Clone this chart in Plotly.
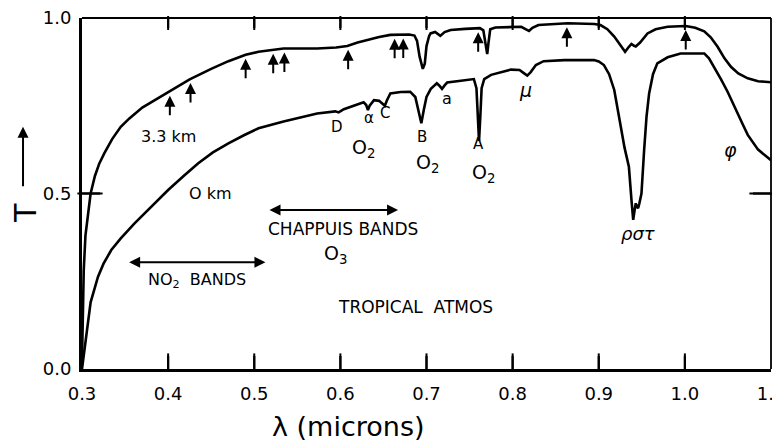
import numpy as np
import plotly.graph_objects as go

lam_33 = [0.300, 0.301, 0.302, 0.304, 0.307, 0.310, 0.315, 0.320, 0.326, 0.335, 0.345, 0.355,
          0.370, 0.385, 0.402, 0.425, 0.450, 0.470, 0.490, 0.505, 0.534, 0.573, 0.595, 0.608,
          0.620, 0.631, 0.645, 0.658, 0.680, 0.686, 0.689, 0.692, 0.6957, 0.698, 0.700, 0.703,
          0.7047, 0.710, 0.716, 0.721, 0.728, 0.745, 0.762, 0.766, 0.768, 0.7705, 0.772, 0.774,
          0.780, 0.798, 0.810, 0.815, 0.819, 0.823, 0.830, 0.864, 0.895, 0.902, 0.910, 0.918,
          0.925, 0.9306, 0.935, 0.938, 0.941, 0.943, 0.948, 0.9566, 0.966, 0.980, 1.001, 1.012,
          1.0225, 1.030, 1.038, 1.046, 1.0535, 1.062, 1.073, 1.085, 1.100]
T_33 = [0.02, 0.15, 0.28, 0.38, 0.45, 0.50, 0.55, 0.585, 0.615, 0.655, 0.69, 0.714,
        0.745, 0.767, 0.790, 0.825, 0.855, 0.877, 0.895, 0.904, 0.913, 0.913, 0.916, 0.920,
        0.930, 0.937, 0.946, 0.952, 0.953, 0.950, 0.935, 0.89, 0.855, 0.87, 0.92, 0.948,
        0.956, 0.960, 0.949, 0.960, 0.966, 0.969, 0.971, 0.965, 0.93, 0.897, 0.93, 0.968,
        0.973, 0.975, 0.975, 0.968, 0.963, 0.972, 0.980, 0.985, 0.983, 0.980, 0.968, 0.947,
        0.922, 0.904, 0.918, 0.926, 0.921, 0.919, 0.930, 0.956, 0.968, 0.975, 0.977, 0.972,
        0.962, 0.945, 0.918, 0.885, 0.861, 0.842, 0.828, 0.820, 0.817]

lam_0 = [0.300, 0.302, 0.305, 0.307, 0.310, 0.3186, 0.325, 0.334, 0.345, 0.361, 0.380, 0.400,
         0.418, 0.435, 0.452, 0.470, 0.488, 0.505, 0.534, 0.573, 0.594, 0.598, 0.604, 0.612,
         0.620, 0.627, 0.630, 0.632, 0.634, 0.639, 0.645, 0.6516, 0.654, 0.658, 0.670, 0.681,
         0.687, 0.690, 0.694, 0.697, 0.700, 0.705, 0.712, 0.715, 0.718, 0.721, 0.724, 0.740,
         0.755, 0.758, 0.7595, 0.761, 0.7625, 0.764, 0.767, 0.775, 0.798, 0.808, 0.813, 0.817,
         0.821, 0.827, 0.836, 0.860, 0.8945, 0.900, 0.906, 0.912, 0.918, 0.922, 0.9256, 0.930,
         0.935, 0.938, 0.940, 0.9415, 0.943, 0.9445, 0.9457, 0.947, 0.9496, 0.9527, 0.9555,
         0.9585, 0.963, 0.968, 0.980, 0.995, 1.010, 1.0225, 1.028, 1.034, 1.042, 1.0496, 1.055,
         1.061, 1.067, 1.073, 1.085, 1.100]
T_0 = [0.00, 0.04, 0.09, 0.14, 0.19, 0.263, 0.30, 0.339, 0.372, 0.415, 0.462, 0.510,
       0.550, 0.586, 0.617, 0.643, 0.666, 0.686, 0.705, 0.728, 0.734, 0.731, 0.740, 0.747,
       0.755, 0.760, 0.752, 0.738, 0.750, 0.766, 0.764, 0.750, 0.765, 0.785, 0.789, 0.790,
       0.775, 0.74, 0.700, 0.74, 0.775, 0.798, 0.814, 0.807, 0.798, 0.808, 0.816, 0.821,
       0.826, 0.800, 0.72, 0.650, 0.72, 0.80, 0.826, 0.838, 0.853, 0.852, 0.843, 0.836,
       0.846, 0.866, 0.877, 0.880, 0.880, 0.876, 0.866, 0.840, 0.795, 0.745, 0.690, 0.630,
       0.576, 0.481, 0.425, 0.45, 0.472, 0.462, 0.458, 0.47, 0.500, 0.624, 0.720,
       0.785, 0.84, 0.871, 0.888, 0.899, 0.900, 0.899, 0.885, 0.861, 0.825, 0.790, 0.760,
       0.728, 0.698, 0.667, 0.625, 0.595]

# window markers (arrows) under the 3.3 km curve
arrow_lam = [0.402, 0.426, 0.490, 0.522, 0.535, 0.609, 0.663, 0.673, 0.760, 0.863, 1.001]

x_tickvals = [0.3, 0.4, 0.5, 0.6, 0.7, 0.8, 0.9, 1.0, 1.1]
x_ticktext = ["0.3", "0.4", "0.5", "0.6", "0.7", "0.8", "0.9", "1.0", "1.1"]
y_tickvals = [0.0, 0.5, 1.0]
y_ticktext = ["0.0", "0.5", "1.0"]

FONT = "DejaVu Sans"
XR = [0.3, 1.1]
YR = [0.0, 1.0]

fig = go.Figure()
fig.add_trace(go.Scatter(x=lam_33, y=T_33, mode="lines",
                         line=dict(color="black", width=2.6), hoverinfo="skip"))
fig.add_trace(go.Scatter(x=lam_0, y=T_0, mode="lines",
                         line=dict(color="black", width=2.6), hoverinfo="skip"))

# inward tick marks (bottom 13px, top 10px, left/right 18px)
px_per_y = 351.0 / (YR[1] - YR[0])
px_per_x = 689.0 / (XR[1] - XR[0])
inner_x = x_tickvals[1:-1]
inner_y = y_tickvals[1:-1]
tx, ty = [], []
for tv in inner_x:
    tx += [tv, tv, None, tv, tv, None]
    ty += [YR[0], YR[0] + 13 / px_per_y, None, YR[1], YR[1] - 10 / px_per_y, None]
for tv in inner_y:
    tx += [XR[0], XR[0] + 18 / px_per_x, None, XR[1], XR[1] - 18 / px_per_x, None]
    ty += [tv, tv, None, tv, tv, None]
fig.add_trace(go.Scatter(x=tx, y=ty, mode="lines", line=dict(color="black", width=2.2),
                         hoverinfo="skip", connectgaps=False, cliponaxis=False))
# same ticks as line-shaped markers (robust rendering)
fig.add_trace(go.Scatter(x=inner_x, y=[YR[0] + 6.5 / px_per_y] * len(inner_x), mode="markers",
                         marker=dict(symbol="line-ns", size=13, color="black",
                                     line=dict(color="black", width=2)),
                         hoverinfo="skip", cliponaxis=False))
fig.add_trace(go.Scatter(x=inner_x, y=[YR[1] - 5 / px_per_y] * len(inner_x), mode="markers",
                         marker=dict(symbol="line-ns", size=10, color="black",
                                     line=dict(color="black", width=2)),
                         hoverinfo="skip", cliponaxis=False))
fig.add_trace(go.Scatter(x=[XR[0] + 8 / px_per_x] * len(inner_y) + [XR[1] - 9 / px_per_x] * len(inner_y),
                         y=inner_y + inner_y, mode="markers",
                         marker=dict(symbol="line-ew", size=18, color="black",
                                     line=dict(color="black", width=2)),
                         hoverinfo="skip", cliponaxis=False))

ann = []
# arrows under the upper curve
arrow_T = np.interp(arrow_lam, lam_33, T_33)
for xl, yt in zip(arrow_lam, arrow_T):
    ann.append(dict(x=xl, y=float(yt), xref="x", yref="y", ax=0, ay=25, text="",
                    showarrow=True, arrowhead=2, arrowsize=1.1, arrowwidth=2,
                    arrowcolor="black", standoff=4))

# band double arrows
bands = [(0.353, 0.513, 0.304), (0.516, 0.667, 0.453)]
for x0, x1, yy in bands:
    ann.append(dict(x=x1, y=yy, ax=x0, ay=yy, xref="x", yref="y", axref="x", ayref="y",
                    text="", showarrow=True, arrowhead=2, arrowside="end+start",
                    arrowsize=1.1, arrowwidth=2, arrowcolor="black"))

labels = [
    ("3.3 km", 0.400, 0.661, 16),
    ("O km", 0.449, 0.501, 16),
    ("NO<sub>2</sub>\u00a0 BANDS", 0.433, 0.252, 16),
    ("CHAPPUIS BANDS", 0.603, 0.399, 17),
    ("O<sub>3</sub>", 0.594, 0.325, 19),
    ("TROPICAL\u00a0\u00a0ATMOS", 0.687, 0.177, 17),
    ("D", 0.596, 0.690, 15),
    ("α", 0.633, 0.716, 15),
    ("C", 0.652, 0.729, 15),
    ("O<sub>2</sub>", 0.627, 0.628, 19),
    ("B", 0.695, 0.662, 15),
    ("O<sub>2</sub>", 0.701, 0.585, 19),
    ("A", 0.760, 0.640, 15),
    ("O<sub>2</sub>", 0.766, 0.556, 19),
    ("a", 0.724, 0.771, 16),
    ("<i>μ</i>", 0.815, 0.795, 19),
    ("<i>ρστ</i>", 0.945, 0.385, 18),
    ("<i>φ</i>", 1.0535, 0.624, 19),
]
for t, xx, yy, fs in labels:
    ann.append(dict(x=xx, y=yy, xref="x", yref="y", text=t, showarrow=False,
                    xanchor="center", yanchor="middle",
                    font=dict(family=FONT, size=fs, color="black")))

# axis titles
ann.append(dict(x=0.386, y=-0.163, xref="paper", yref="paper", text="λ (microns)",
                xanchor="center", yanchor="middle",
                showarrow=False, font=dict(family=FONT, size=27, color="black")))
ann.append(dict(x=-0.083, y=0.444, xref="paper", yref="paper", text="T", textangle=-90,
                xanchor="center", yanchor="middle",
                showarrow=False, font=dict(family=FONT, size=30, color="black")))
ann.append(dict(x=-0.0856, y=0.69, ax=0, ay=61, xref="paper", yref="paper",
                text="", showarrow=True, arrowhead=2,
                arrowsize=1.1, arrowwidth=2, arrowcolor="black"))

# thin top/right frame
shapes = [
    dict(type="line", xref="paper", yref="paper", x0=0, x1=1, y0=1, y1=1,
         line=dict(color="black", width=1.8)),
    dict(type="line", xref="paper", yref="paper", x0=1, x1=1, y0=0, y1=1,
         line=dict(color="black", width=1.8)),
]

tickfont = dict(family=FONT, size=18, color="black")
# page body has an 8px margin: shift the figure up/left to compensate
fig.update_layout(
    width=780, height=441,
    margin=dict(l=74, r=17, t=10, b=80, autoexpand=False),
    paper_bgcolor="white", plot_bgcolor="white",
    showlegend=False,
    xaxis=dict(range=XR, tickvals=x_tickvals, ticktext=x_ticktext,
               ticks="", showline=True, linewidth=3, linecolor="black",
               showgrid=False, zeroline=False, tickfont=tickfont, automargin=False,
               ticklabelstandoff=6, ticklabeloverflow="allow"),
    yaxis=dict(range=YR, tickvals=y_tickvals, ticktext=y_ticktext,
               ticks="", showline=True, linewidth=3, linecolor="black",
               showgrid=False, zeroline=False, tickfont=tickfont, automargin=False,
               ticklabelstandoff=4, ticklabeloverflow="allow"),
    shapes=shapes,
    annotations=ann,
)

fig.write_html("out.html")
